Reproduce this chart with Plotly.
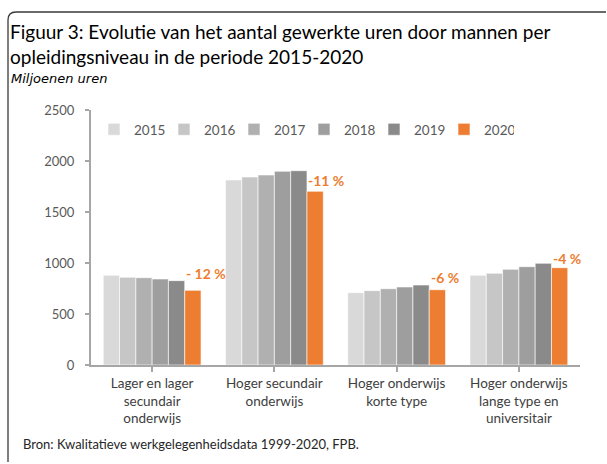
import plotly.graph_objects as go

categories = [
    "Lager en lager<br>secundair<br>onderwijs",
    "Hoger secundair<br>onderwijs",
    "Hoger onderwijs<br>korte type",
    "Hoger onderwijs<br>lange type en<br>universitair",
]
years = ["2015", "2016", "2017", "2018", "2019", "2020"]
values = {
    "2015": [879, 1814, 709, 879],
    "2016": [860, 1843, 729, 899],
    "2017": [856, 1863, 748, 938],
    "2018": [843, 1899, 765, 964],
    "2019": [827, 1905, 784, 997],
    "2020": [732, 1703, 738, 954],
}
change_labels = ["- 12 %", "-11 %", "-6 %", "-4 %"]

colors = ["#D9D9D9", "#C6C6C6", "#B0B0B0", "#9E9E9E", "#8A8A8A", "#ED7D31"]
label_yshift = [17, 11, 12, 9]

FONT = "Lato"
fig = go.Figure()
for y, c in zip(years, colors):
    fig.add_trace(go.Bar(
        name=y, x=list(range(len(categories))), y=values[y],
        marker=dict(color=c, line=dict(color="white", width=0.6)),
    ))

annotations = []
for i, (lab, v) in enumerate(zip(change_labels, values["2020"])):
    annotations.append(dict(
        x=i, y=v, xref="x", yref="y", text="<b>%s</b>" % lab, showarrow=False,
        xanchor="left", yanchor="middle", xshift=32, yshift=label_yshift[i],
        font=dict(family=FONT, size=14, color="#ED7D31"),
    ))

W, H = 607, 464
ML, MR, MT, MB = 91, 27, 110, 99
pw, ph = W - ML - MR, H - MT - MB

def px(x):
    return (x - ML) / pw

def py(y):
    return (H - MB - y) / ph

annotations += [
    dict(xref="paper", yref="paper", x=px(8), y=py(18), xanchor="left", yanchor="top",
         align="left", showarrow=False,
         text="Figuur 3: Evolutie van het aantal gewerkte uren door mannen per<br>opleidingsniveau in de periode 2015-2020",
         font=dict(family=FONT, size=19, color="#000000")),
    dict(xref="paper", yref="paper", x=px(9), y=py(78), xanchor="left", yanchor="middle",
         showarrow=False, text="<i>Miljoenen uren</i>",
         font=dict(family="DejaVu Sans", size=13, color="#000000")),
    dict(xref="paper", yref="paper", x=px(21), y=py(444), xanchor="left", yanchor="middle",
         showarrow=False, text="Bron: Kwalitatieve werkgelegenheidsdata 1999-2020, FPB.",
         font=dict(family=FONT, size=13, color="#262626")),
]

r = 8
x0, x1 = px(8), px(606)
y0, y1 = py(12), py(462)
rx, ry = r / pw, r / ph
frame = dict(
    type="path", xref="paper", yref="paper",
    path=f"M {x0},{y1} L {x0},{y0 - ry} Q {x0},{y0} {x0 + rx},{y0} L {x1},{y0}",
    line=dict(color="#3a3a3a", width=1.3),
)

fig.update_layout(
    width=W, height=H,
    margin=dict(l=ML, r=MR, t=MT, b=MB),
    paper_bgcolor="white", plot_bgcolor="white",
    barmode="group", bargap=0.2, bargroupgap=0,
    showlegend=True,
    legend=dict(orientation="h", x=px(94), y=py(114), xanchor="left", yanchor="top",
                font=dict(family=FONT, size=13.5, color="#595959"),
                itemwidth=30, entrywidth=25, entrywidthmode="pixels",
                bgcolor="rgba(0,0,0,0)", tracegroupgap=0),
    xaxis=dict(
        tickmode="array", tickvals=list(range(len(categories))), ticktext=categories,
        range=[-0.5, len(categories) - 0.5],
        showline=True, linecolor="#A6A6A6", linewidth=2,
        ticks="outside", ticklen=5, tickcolor="#A6A6A6", tickwidth=2,
        tickfont=dict(family=FONT, size=13.5, color="#404040"),
        showgrid=False, zeroline=False, tickson="boundaries",
    ),
    yaxis=dict(
        range=[0, 2500], dtick=500,
        showline=True, linecolor="#A6A6A6", linewidth=2,
        ticks="outside", ticklen=4, tickcolor="#A6A6A6", tickwidth=2,
        tickfont=dict(family=FONT, size=13, color="#595959"),
        ticklabelstandoff=8,
        showgrid=False, zeroline=False,
    ),
    annotations=annotations,
    shapes=[frame],
)

fig.write_html("out.html", config={"displayModeBar": False},
               post_script="document.body.style.margin='0';")
